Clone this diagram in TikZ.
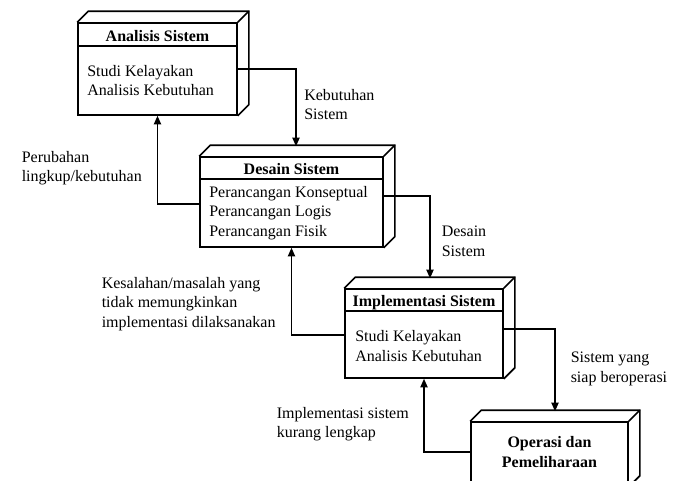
\documentclass[tikz,border=0pt]{standalone}
\usepackage{fontspec}
\setmainfont{Liberation Serif}
\usetikzlibrary{arrows.meta,calc}
\tikzset{
  face/.style={draw, line width=1.2pt, inner sep=0pt, fill=white},
  edge3d/.style={line width=1.2pt, line join=miter},
  arr/.style={-{Triangle[width=5.5pt,length=6.5pt]}, line width=1pt},
  lbl/.style={anchor=base west, align=left, inner sep=0pt, font=\fontsize{12}{14.6}\selectfont},
  ttl/.style={anchor=base, inner sep=0pt, font=\fontsize{12}{14.6}\selectfont\bfseries},
}
\begin{document}
\begin{tikzpicture}[x=0.75pt,y=-0.75pt]
\useasboundingbox (0,0) rectangle (681,480);
\clip (0,0) rectangle (681,480);
% front faces
\node[face, minimum width=119.25pt, minimum height=69pt] (b1) at (157.5,69) {};
\node[face, minimum width=137.25pt, minimum height=67.5pt] (b2) at (291.5,202) {};
\node[face, minimum width=118.5pt, minimum height=66.75pt] (b3) at (424,333.5) {};
\node[face, minimum width=117.75pt, minimum height=48pt] (b4) at (549.5,454) {};
% 3D edges
\foreach \b in {b1,b2,b3,b4}{
  \draw[edge3d] (\b.north west) -- ++(11,-11) -| ($(\b.south east)+(11,-11)$) -- (\b.south east);
  \draw[edge3d] (\b.north east) -- ++(11,-11);
}
% title separators
\draw[edge3d] ($(b1.north west)+(0,24)$) -- ($(b1.north east)+(0,24)$);
\draw[edge3d] ($(b2.north west)+(0,23)$) -- ($(b2.north east)+(0,23)$);
\draw[edge3d] ($(b3.north west)+(0,23)$) -- ($(b3.north east)+(0,23)$);
% box texts (base anchor = baseline of last line)
\node[ttl] (t1) at (157.5,41) {Analisis Sistem};
\node[lbl] (c1) at (87,95.5) {Studi Kelayakan\\Analisis Kebutuhan};
\node[ttl] (t2) at (291.5,174) {Desain Sistem};
\node[lbl] (c2) at (209,236) {Perancangan Konseptual\\Perancangan Logis\\Perancangan Fisik};
\node[ttl] (t3) at (424,306) {Implementasi Sistem};
\node[lbl] (c3) at (355,361) {Studi Kelayakan\\Analisis Kebutuhan};
\node[ttl, align=center] (t4) at (549.5,467) {Operasi dan\\Pemeliharaan};
% forward connectors
\draw[arr] (b1.east) -| ($(b2.north)+(4.5,-10)$);
\draw[arr] ($(b2.east)+(0,-6)$) -| ($(b3.north)+(6,-10)$);
\draw[arr] ($(b3.east)+(0,-4.5)$) -| ($(b4.north)+(5.5,-10)$);
% feedback connectors
\draw[arr] ($(b2.west)+(0,2)$) -| (b1.south);
\draw[arr] ($(b3.west)+(0,1.5)$) -| (b2.south);
\draw[arr] ($(b4.west)+(0,-2)$) -| (b3.south);
% labels
\node[lbl] (l1) at (304,119.5) {Kebutuhan\\Sistem};
\node[lbl] (l2) at (21.5,181.5) {Perubahan\\lingkup/kebutuhan};
\node[lbl] (l3) at (441.5,256) {Desain\\Sistem};
\node[lbl] (l4) at (101.5,327) {Kesalahan/masalah yang\\tidak memungkinkan\\implementasi dilaksanakan};
\node[lbl] (l5) at (570.5,382) {Sistem yang\\siap beroperasi};
\node[lbl] (l6) at (276.5,437.5) {Implementasi sistem\\kurang lengkap};
\end{tikzpicture}
\end{document}
